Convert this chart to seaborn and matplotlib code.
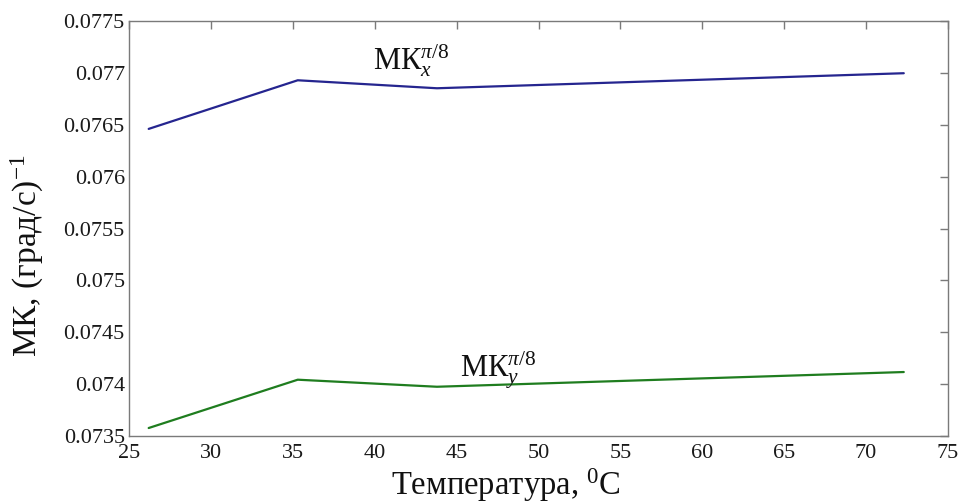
import matplotlib
matplotlib.use("Agg")
import matplotlib.pyplot as plt
import seaborn as sns
import pandas as pd

# Temperature points and the two scale-factor curves
temperature = [26.2, 35.3, 43.8, 72.3]
mk_x = [0.076462, 0.076931, 0.076854, 0.076999]
mk_y = [0.073577, 0.074043, 0.073975, 0.074117]

x_ticks = [25, 30, 35, 40, 45, 50, 55, 60, 65, 70, 75]
y_ticks = [0.0735, 0.074, 0.0745, 0.075, 0.0755, 0.076, 0.0765, 0.077, 0.0775]
y_tick_labels = ["0.0735", "0.074", "0.0745", "0.075", "0.0755",
                 "0.076", "0.0765", "0.077", "0.0775"]

sns.set_theme(style="white")
plt.rcParams["font.family"] = ["Liberation Serif", "DejaVu Serif"]
plt.rcParams["mathtext.fontset"] = "custom"
plt.rcParams["mathtext.rm"] = "Liberation Serif"
plt.rcParams["mathtext.it"] = "Liberation Serif:italic"
plt.rcParams["mathtext.bf"] = "Liberation Serif:bold"

df = pd.DataFrame({
    "t": temperature * 2,
    "mk": mk_x + mk_y,
    "axis": ["x"] * len(temperature) + ["y"] * len(temperature),
})

fig = plt.figure(figsize=(9.6, 5.03), dpi=100)
ax = fig.add_axes([0.1344, 0.1332, 0.8531, 0.8245])

sns.lineplot(data=df, x="t", y="mk", hue="axis",
             palette={"x": "#25258f", "y": "#1f7d1f"},
             linewidth=1.6, legend=False, ax=ax)

ax.set_xlim(25, 75)
ax.set_ylim(0.0735, 0.0775)
ax.set_xticks(x_ticks)
ax.set_xticklabels([str(v) for v in x_ticks])
ax.set_yticks(y_ticks)
ax.set_yticklabels(y_tick_labels)

frame = "#7a7a7a"
for s in ax.spines.values():
    s.set_color(frame)
    s.set_linewidth(1.0)
ax.tick_params(axis="both", direction="in", top=True, right=True,
               length=6, width=1.0, color=frame, labelsize=16,
               labelcolor="#1a1a1a")
ax.tick_params(axis="x", pad=6)
ax.tick_params(axis="y", pad=3)

ax.set_xlabel("Температура, $^{0}$C", fontsize=23.5, color="#111111")
ax.xaxis.set_label_coords(0.46, -0.074)
ax.set_ylabel("МК, (град/с)$^{-1}$", fontsize=24, color="#111111")
ax.yaxis.set_label_coords(-0.101, 0.435)

ax.text(39.9, 0.077031, "МК$_x^{\\pi/8}$", fontsize=22, color="#111111",
        va="baseline", ha="left")
ax.text(45.2, 0.074071, "МК$_y^{\\pi/8}$", fontsize=22, color="#111111",
        va="baseline", ha="left")

fig.savefig("out.png", dpi=100)
